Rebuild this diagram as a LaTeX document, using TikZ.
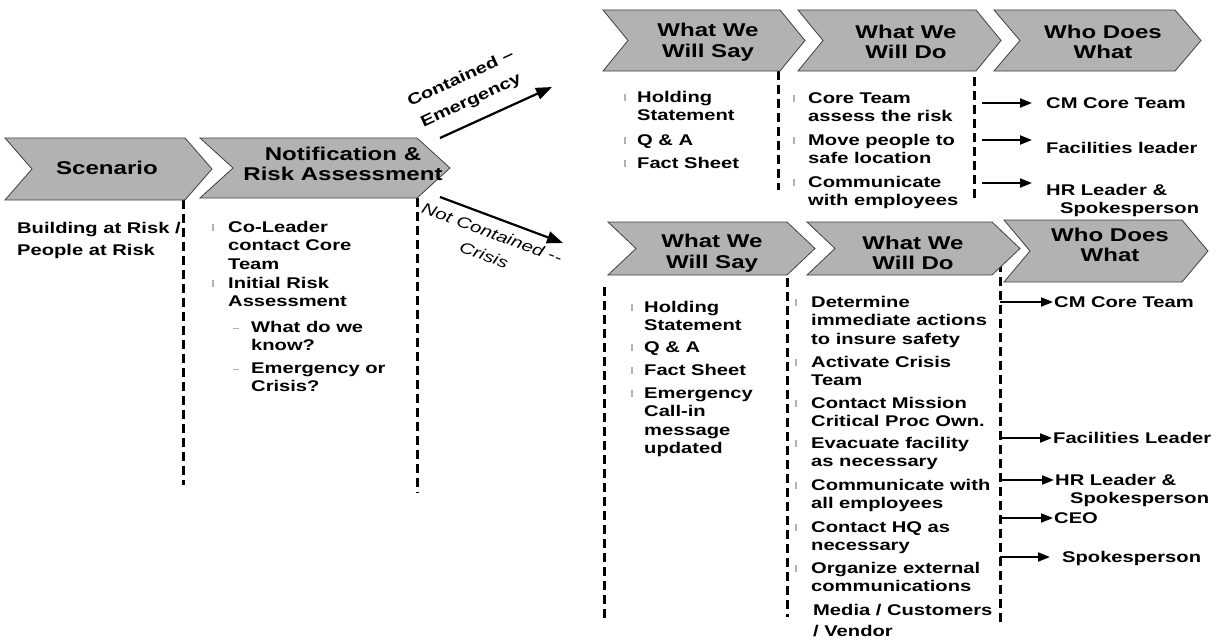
\documentclass[tikz,border=0pt]{standalone}
\usepackage{fontspec}
\setmainfont{Liberation Sans}[FakeStretch=1.3]
\usetikzlibrary{arrows.meta}
\definecolor{chevgray}{RGB}{178,178,178}
\tikzset{
  chevshape/.style={fill=chevgray, draw=black!75, line width=0.8pt, line join=miter},
  chevtext/.style={font=\fontsize{18.5}{20.5}\selectfont\bfseries, align=center, inner sep=0pt},
  itemtext/.style={font=\fontsize{15.5}{18.5}\selectfont\bfseries, anchor=base west, inner sep=0pt},
  whotext/.style={font=\fontsize{15.5}{18.5}\selectfont\bfseries, anchor=base west, inner sep=0pt},
  branchtext/.style={font=\fontsize{15.5}{18.5}\selectfont, align=center, inner sep=0pt},
  dashline/.style={line width=3pt, dash pattern=on 9pt off 5pt},
  flowarrow/.style={line width=2pt, -{Triangle[length=12pt,width=9pt]}},
  branch/.style={line width=2.2pt, -{Triangle[length=16pt,width=12pt]}},
  bulletmark/.style={fill=black!30},
}
% chevron: left x, top y, body width, height, point depth
\newcommand\chevron[5]{%
  \path[chevshape] (#1,#2) -- ++(#3,0) -- ++(#5,#4/2) -- ++(-#5,#4/2)
    -- ++(-#3,0) -- ++(#5,-#4/2) -- cycle;}
% list bullet and sub-bullet at a text baseline
\newcommand\bul[2]{\fill[bulletmark] (#1-0.8,#2-8) rectangle (#1+0.8,#2-1.5);}
\newcommand\subbul[2]{\fill[bulletmark] (#1,#2-4) rectangle (#1+6,#2-3);}
% stacked lines whose baseline is the first line's
\newcommand\lines[1]{\begin{tabular}[t]{@{}l@{}}#1\end{tabular}}
\begin{document}
\begin{tikzpicture}[x=1pt,y=-1pt]
\useasboundingbox (0,0) rectangle (1225,642);

% column separators
\coordinate (s1t) at (183,200);  \coordinate (s1b) at (183,485);
\coordinate (s2t) at (417,198);  \coordinate (s2b) at (417,493);
\coordinate (s3t) at (778,71);   \coordinate (s3b) at (778,190);
\coordinate (s4t) at (974,77);   \coordinate (s4b) at (974,202);
\coordinate (s5t) at (604,287);  \coordinate (s5b) at (604,620);
\coordinate (s6t) at (787,278);  \coordinate (s6b) at (787,617);
\coordinate (s7t) at (1000,263); \coordinate (s7b) at (1000,622);
\foreach \c in {s1,s2,s3,s4,s5,s6,s7} \draw[dashline] (\c t) -- (\c b);

% process chevrons
\chevron{5}{138}{180}{62}{27}
\chevron{200}{138}{217}{60}{33}
\chevron{603}{10}{177}{61}{25}
\chevron{798}{10}{178}{61}{25}
\chevron{994}{10}{181}{61}{26}
\chevron{608}{222}{179}{53}{28}
\chevron{807}{222}{185}{53}{28}
\chevron{1004}{220}{178}{62}{26}

\node[chevtext] (hsc) at (107,168) {Scenario};
\node[chevtext] (hnr) at (343,164) {Notification \&\\Risk Assessment};
\node[chevtext] (hsay1) at (708,42) {What We\\Will Say};
\node[chevtext] (hdo1) at (906,42) {What We\\Will Do};
\node[chevtext] (hwho1) at (1103,42) {Who Does\\What};
\node[chevtext] (hsay2) at (712,253) {What We\\Will Say};
\node[chevtext] (hdo2) at (913,253) {What We\\Will Do};
\node[chevtext] (hwho2) at (1110,245) {Who Does\\What};

% scenario column
\node[whotext] (sc1) at (17,233) {Building at Risk /};
\node[whotext] (sc2) at (17,255) {People at Risk};

% notification column
\bul{213}{232}\node[itemtext] (nr1) at (228,232) {\lines{Co-Leader\\contact Core\\Team}};
\bul{213}{288}\node[itemtext] (nr2) at (228,288) {\lines{Initial Risk\\Assessment}};
\subbul{233}{332}\node[itemtext] (nr3) at (251,332) {\lines{What do we\\know?}};
\subbul{233}{373}\node[itemtext] (nr4) at (251,373) {\lines{Emergency or\\Crisis?}};

% branch arrows
\coordinate (c1s) at (440,138); \coordinate (c1e) at (552,87);
\coordinate (c2s) at (440,197); \coordinate (c2e) at (563,243);
\draw[branch] (c1s) -- (c1e);
\draw[branch] (c2s) -- (c2e);
\node[branchtext, font=\fontsize{15.5}{18.5}\selectfont\bfseries, rotate=25] (lcont) at (466,90) {Contained --\\[6pt]Emergency};
\node[branchtext, font=\fontsize{15.5}{18.5}\selectfont\itshape, rotate=-20] (lnot) at (488,244) {Not Contained -{}-\\[5pt]Crisis};

% emergency: what we will say / do
\bul{625}{102}\node[itemtext] (es1) at (637,102) {\lines{Holding\\Statement}};
\bul{625}{145}\node[itemtext] (es2) at (637,145) {Q \& A};
\bul{625}{168}\node[itemtext] (es3) at (637,168) {Fact Sheet};
\bul{794}{103}\node[itemtext] (ed1) at (808,103) {\lines{Core Team\\assess the risk}};
\bul{794}{145}\node[itemtext] (ed2) at (808,145) {\lines{Move people to\\safe location}};
\bul{794}{187}\node[itemtext] (ed3) at (808,187) {\lines{Communicate\\with employees}};

% emergency: who does what
\node[whotext] (ew1) at (1046,108) {CM Core Team};
\node[whotext] (ew2) at (1046,153) {Facilities leader};
\node[whotext] (ew3) at (1046,195) {HR Leader \&};
\node[whotext] (ew3b) at (1060,213) {Spokesperson};
\coordinate (ea1) at (982,103);
\coordinate (ea2) at (982,140);
\coordinate (ea3) at (982,183);
\draw[flowarrow] (ea1) -- ([xshift=-14pt]ew1.west |- ea1);
\draw[flowarrow] (ea2) -- ([xshift=-14pt]ew2.west |- ea2);
\draw[flowarrow] (ea3) -- ([xshift=-14pt]ew3.west |- ea3);

% crisis: what we will say
\bul{632}{312}\node[itemtext] (cs1) at (644,312) {\lines{Holding\\Statement}};
\bul{632}{352}\node[itemtext] (cs2) at (644,352) {Q \& A};
\bul{632}{375}\node[itemtext] (cs3) at (644,375) {Fact Sheet};
\bul{632}{398}\node[itemtext] (cs4) at (644,398) {\lines{Emergency\\Call-in\\message\\updated}};

% crisis: what we will do
\bul{796}{307}\node[itemtext] (cd1) at (811,307) {\lines{Determine\\immediate actions\\to insure safety}};
\bul{796}{367}\node[itemtext] (cd2) at (811,367) {\lines{Activate Crisis\\Team}};
\bul{796}{408}\node[itemtext] (cd3) at (811,408) {\lines{Contact Mission\\Critical Proc Own.}};
\bul{796}{448}\node[itemtext] (cd4) at (811,448) {\lines{Evacuate facility\\as necessary}};
\bul{796}{490}\node[itemtext] (cd5) at (811,490) {\lines{Communicate with\\all employees}};
\bul{796}{532}\node[itemtext] (cd6) at (811,532) {\lines{Contact HQ as\\necessary}};
\bul{796}{573}\node[itemtext] (cd7) at (811,573) {\lines{Organize external\\communications}};
\node[itemtext] (cd8) at (813,615) {Media / Customers};
\node[itemtext] (cd9) at (813,636) {/ Vendor};

% crisis: who does what
\node[whotext] (cw1) at (1054,307) {CM Core Team};
\node[whotext] (cw2) at (1053,443) {Facilities Leader};
\node[whotext] (cw3) at (1055,485) {HR Leader \&};
\node[whotext] (cw3b) at (1070,503) {Spokesperson};
\node[whotext] (cw4) at (1054,523) {CEO};
\node[whotext] (cw5) at (1062,562) {Spokesperson};
\coordinate (ca1) at (1000,302);
\coordinate (ca2) at (1000,438);
\coordinate (ca3) at (1000,480);
\coordinate (ca4) at (1000,518);
\coordinate (ca5) at (1000,557);
\draw[flowarrow] (ca1) -- ([xshift=-1pt]cw1.west |- ca1);
\draw[flowarrow] (ca2) -- ([xshift=-1pt]cw2.west |- ca2);
\draw[flowarrow] (ca3) -- ([xshift=-1pt]cw3.west |- ca3);
\draw[flowarrow] (ca4) -- ([xshift=-1pt]cw4.west |- ca4);
\draw[flowarrow] (ca5) -- ([xshift=-12pt]cw5.west |- ca5);
\end{tikzpicture}
\end{document}
